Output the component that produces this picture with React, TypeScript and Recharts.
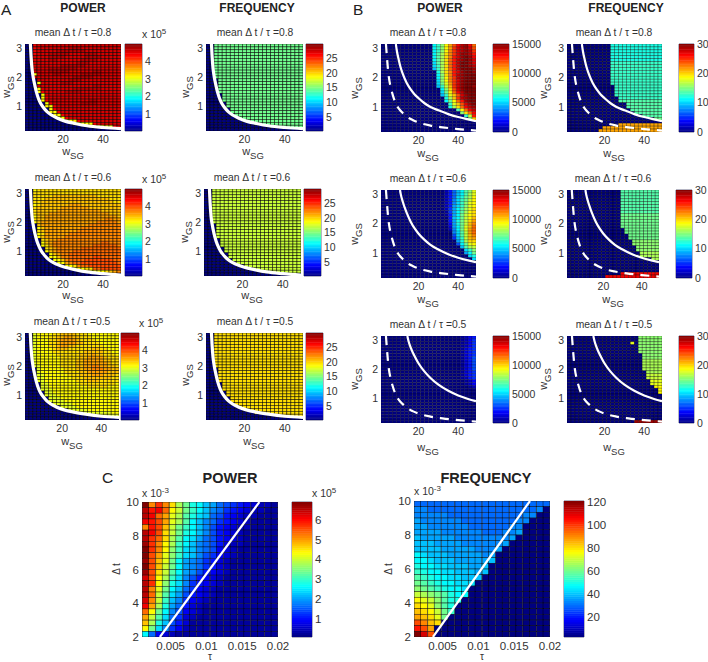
import React from "react";
import { ScatterChart, Scatter, XAxis, YAxis, ReferenceArea } from "recharts";

// Each row is read left to right, top row first. One character = position on the colour bar
// in base 36 (0 = bottom, z = top). A short row repeats its last character to the right edge.
const A_POWER_08 = [
  "00vwwwwwwwwwwwwwwwwwwwww","00vwwwwwwwwxxxwwwwwwwwww","00vwwwwwxxxxxxxwwwwwwwww","00vwwwxxxxxwwwwxxxwwwwww",
  "00wwwwxxxxwwwwwxxxxwwwww","00wwwwxxwwwwwwxxxxwwwwww","00wwwwwwwwwwwxxxwwwwwwww","00wwwwwwwxxxxxxwwwwwwwww",
  "00wwwwxxxxxxxwwwwwwwwwww","00wwwwxxxxxwwwwwwxxwwwww","00mwwwwxxwwwwwxxxxxwwwww","00wwwwwwwwwwxxxxxwwwwwww",
  "000wwwwwwwwxxxwwwwwwwwww","000mwwwwwxxxwwwwwwwwwwww","000wwwwwwwwwwwwwwxxwwwww","000mwwwwwwwwxxxxxxxwwwww",
  "000mvwwwwwxxxxwwwwwwwwww","0000mwwwwwwwwwwwwwwwwwww","0000mvwwwwwwwwwwwwwwwwww","0000mvwwwwwwwwwwxxwwwwww",
  "00000mvwwwwwwwxxxxwwwwww","00000mmvwwwwwwwwwwwwwwww","000000mvwwwwwwwwwwwwwwww","000000mmvwwwwwwwwwwwwwww",
  "0000000mmvwwwwwwwwwwwwww","00000000mmvwwwwwwwwwwwww","0000000000mmnvwwwwwwwwww","000000000000mmmmmvwwwwww",
  "00000000000000000mmmmmvw","0",
];
const A_POWER_06 = [
  "00mnnnnnnnnnnnnnnnnnnnnn","00nnnnnnnnnnnnnnnnnnnnnn","00nnnnnooooooooooonnnnnn","00nnnoooooooooooooooonnn",
  "00nnoooooooooooooooooonn","00mnooooooopppoooooooooo","00noooooopppppppoooooooo","00nooooopppppppppppooooo",
  "00nooopppppppppppppppooo","00mooppppppppppppppppppo","00noopppppppppppppppqqpp","00moppppppppppppppqqqqqp",
  "000oppppppppppppqqqqqqqq","000mopppppppppqqqqqqqqqq","000noppppppppqqqqqqqqqqq","000mnppppppqqqqqqqqqqqqq",
  "000mopppppqqqqqqqqqqqqqq","0000noppqqqqqqqqqqqqqqqq","0000mopqqqqqqqqqqqqrrqqq","0000mnpqqqqqqqqqqrrrrrrq",
  "00000nopqqqqqqrrrrrrrrrr","00000mopqqqqrrrrrrrrrrrr","000000mopqqrrrrrrrrrrrrr","000000mmoqqrrrrrrssrrrrr",
  "0000000mmoqrrrrsssssssrr","00000000mmpqrrsssssssssr","0000000000mmnqrrssssssss","000000000000mmmnnrrsssss",
  "000000000000000mmmmmnopq","0",
];
const A_POWER_05 = [
  "00lmmmmnnoooonnnmmmmmmmm","00lmmmnnooppoonnnmmmmmmm","00lmmmnnopppponnnnmmmmmm","00lmmmnnoppppoonnnnmmmmm",
  "00lmmmnnoppoonnnnnnnmmmm","00lmmmmnooonnnnnnoonnmmm","00lmmmmnnnnnnnnooooonnmm","00lmmmmmnnnnnnooopoonnnm",
  "00lmmmmmmnnnnnoopppponnn","00lmmmmmmnnnnoopppppoonn","00lmmmmmmnnnnoopppppponn","00llmmmmmnnnnooppqqppoon",
  "000lmmmmmmnnnooppqqqppoo","000lmmmmmmnnnnoopppppooo","000llmmmmmmnnnooopppooon","000llmmmmmmmnnnooooooonn",
  "000llmmmmmmmmnnnooonnnnn","0000llmmmmmmmmnnnnnnnnnm","0000llmmmmmmmmmmnnnnnmmm","0000lllmmmmmmmmmmmmmmmmm",
  "00000llmmmmmmmmmmmmmmmmm","00000lllmmmmmmmmmmmmmmmm","000000lllmmmmmmmmmmmmmmm","000000llllmmmmmmmmmmmmmm",
  "0000000lllllmmmmmmmmmmmm","000000000llllmmmmmmmmmmm","00000000000lllllmmmmmmmm","0000000000000lllllllllmm",
  "000000000000000000llllll","0",
];
const A_FREQ_08 = [
  "00h","00h","00h","00h","00h","00h","00h","00h","00h","00h","00h","00h",
  "000h","000h","000h","000h","000h","0000h","0000h","0000h","00000h","00000h","000000h","000000h",
  "0000000h","00000000h","0000000000h","000000000000h","00000000000000000h","0",
];
const A_FREQ_06 = [
  "00k","00k","00k","00k","00k","00k","00k","00k","00k","00k","00k","00k",
  "000k","000k","000k","000k","000k","0000k","0000k","0000k","00000k","00000k","000000k","000000k",
  "0000000k","00000000k","0000000000k","000000000000k","000000000000000k","0",
];
const A_FREQ_05 = [
  "00n","00n","00n","00n","00n","00n","00n","00n","00n","00n","00n","00n",
  "000n","000n","000n","000n","000n","0000n","0000n","0000n","00000n","00000n","000000n","000000n",
  "0000000n","00000000n","0000000000n","000000000000n","000000000000000000n","0",
];
const B_POWER_08 = [
  "0000000000000dfimpsvxyvr","0000000000000dfimptwxyws","0000000000000dfimqtwxyxt","0000000000000dgjnqtwyyxu",
  "0000000000000dgjnquwyzyv","0000000000000dgjnruxyzyw","0000000000000cgjnruxzzyw","0000000000000cfjnruxzzyx",
  "0000000000000bfjnruxzzzy","00000000000000ejnquwyzzy","00000000000000dinquxyzzz","00000000000000dimqtxyzzz",
  "00000000000000cimqtwyzzz","00000000000000chlptwyzzz","00000000000000bfkotwyzzy","000000000000000dinswyzzz",
  "000000000000000chmrvxzzz","000000000000000bfloswyzz","0000000000000000ejotxyzz","0000000000000000dhmruyzz",
  "00000000000000000floswyz","00000000000000000ejnrvxy","0000000000000000000gmrvx","00000000000000000000inrv",
  "000000000000000000000fku","0000000000000000000000ho","0","0","0","0",
];
const B_FREQ_08 = [
  "00000000000e","00000000000e","00000000000e","00000000000e","00000000000e","00000000000e","00000000000f",
  "00000000000f","00000000000f","00000000000f","00000000000f","00000000000f","00000000000f","00000000000f",
  "000000000000f","000000000000f","000000000000f","000000000000f","0000000000000f","0000000000000g",
  "000000000000000g","000000000000000g","0000000000000000g","00000000000000000g","0000000000000000000g",
  "0000000000000000000000h","0","0000000000000p","000000000p","00000000p",
];
const B_POWER_06 = [
  "0000000000000000258bdgil","0000000000000000258bdgjl","0000000000000000258cehjm","0000000000000000259cfhkm",
  "0000000000000000259cfilm","000000000000000025acfilm","000000000000000026adgjln","000000000000000016adgjmn",
  "000000000000000015adhkmn","000000000000000005bdhkmo","000000000000000005aehknp","000000000000000004aehkoq",
  "000000000000000003adhlor","0000000000000000029dhlpr","0000000000000000009cgkpr","0000000000000000007cgkoq",
  "0000000000000000006bfkop","0000000000000000000aejnn","00000000000000000007dhlm","00000000000000000000bgjk",
  "000000000000000000000cfi","000000000000000000000adh","0000000000000000000000ce","00000000000000000000000c",
  "0","0","0","0","0","0",
];
const B_FREQ_06 = [
  "00000000000000g","00000000000000g","00000000000000g","00000000000000g","00000000000000g","00000000000000g",
  "00000000000000g","00000000000000g","00000000000000h","00000000000000h","00000000000000h","00000000000000h",
  "00000000000000h","000000000000000h","000000000000000h","0000000000000000h","0000000000000000h",
  "00000000000000000i","00000000000000000i","000000000000000000i","000000000000000000i","0000000000000000000j",
  "0000000000000000000j","0000000000000000000000j","0","0","0","0","00000000000000v","0000000000v",
];
const B_POWER_05 = [
  "000000000000000000001245","000000000000000000001246","000000000000000000001246","000000000000000000001246",
  "000000000000000000001356","000000000000000000001356","000000000000000000001356","000000000000000000001357",
  "000000000000000000001357","000000000000000000001357","000000000000000000001357","000000000000000000001357",
  "000000000000000000001356","000000000000000000001356","000000000000000000001256","000000000000000000000124",
  "000000000000000000000124","000000000000000000000012","0","0","0","0","0","0","0","0","0","0","0","0",
];
const B_FREQ_05 = [
  "000000000000000000i","000000000000000000i","0000000000000000l0i","000000000000000000i","000000000000000000i",
  "000000000000000000i","0000000000000000000i","0000000000000000000i","0000000000000000000j","0000000000000000000j",
  "0000000000000000000j","0000000000000000000j","00000000000000000000j","00000000000000000000k",
  "00000000000000000000k","000000000000000000000l","000000000000000000000l","0000000000000000000000m",
  "00000000000000000000000m","00000000000000000000000m","0","0","0","0","0","0","0","0","0","00000000000000000y",
];
const C_POWER = [
  "zqtqnjhedba876543221","xuvrmkhfdb9865432211","xvrpljgecb8754322111","vuspljgdb98654321111",
  "qusokhfdb97543221111","xvsnkhedb97543211111","xtrnjgdca87543211111","ytqmjfdb987532211111",
  "ztqmifcb987432111111","zsplifcb976432111111","ysolhda9865321111111","zsokhda9865321111111",
  "ysnkgda9754321111111","wsmjfc97543211111111","xtmiec96543211111111","xqlhdb86432111111111",
  "xrkgca75432111111111","wqkfb964321111111111","vpjea853211111111111","rmhd9743211111111111",
  "pkgc8632111111111111","ojeb7531111111111111","mhc96421111111111111","d8432111111111111111",
];
const C_FREQ = [
  "88888888888888888888","99888888888888888890","9999988888888888990","a99999988888888990","aa999999888888990",
  "aaaa99999988899a0","baaaaa99999999a0","bbbaaaa999999a0","bbbbaaaaa999a0","dcbbbaaaaa9a0","ddcbbbaaaaab0",
  "eddccbbbaab0","feddccbbbab0","gfeddccbbb0","hgfeddccc0","ihgfeddc0","kjihgedd0","mlkigee0","nmlige0",
  "onmkhf0","ponlh0","sqon0","usp0","zws0",
];

const W_SG_CENTERS = [2,4,6,8,10,12,14,16,18,20,22,24,26,28,30,32,34,36,38,40,42,44,46,48];
const W_GS_CENTERS = [3.1,3,2.9,2.8,2.7,2.6,2.5,2.4,2.3,2.2,2.1,2,1.9,1.8,1.7,1.6,1.5,1.4,1.3,1.2,1.1,1,0.9,0.8,0.7,0.6,0.5,0.4,0.3,0.2];
const TAU_CENTERS = [0.0015,0.0024,0.0034,0.0043,0.0053,0.0062,0.0072,0.0081,0.0091,0.01,0.011,0.0119,0.0129,0.0138,0.0148,0.0157,0.0167,0.0176,0.0186,0.0195];
const DT_CENTERS = [9.83,9.5,9.17,8.83,8.5,8.17,7.83,7.5,7.17,6.83,6.5,6.17,5.83,5.5,5.17,4.83,4.5,4.17,3.83,3.5,3.17,2.83,2.5,2.17];

const BAR_LEVELS = [0,1,2,3,4,5,6,7,8,9,10,11,12,13,14,15,16,17,18,19,20,21,22,23,24,25,26,27,28,29,30,31,32,33,34,35,36,37,38,39,40,41,42,43,44,45,46,47,48,49,50,51,52,53,54,55,56,57,58,59,60,61,62,63];

type P = { x: number; y: number };
const pts = (xs: number[], ys: number[]): P[] => xs.map((x, i) => ({ x, y: ys[i] }));

const LOW_X = [3.7,4,4.5,5,6,7,8,9,10,12,14,17,21,26,32,40,49];
const LOW_Y_08 = [3.15,2.75,2.3,2.05,1.7,1.42,1.22,1.08,0.98,0.82,0.71,0.6,0.49,0.41,0.33,0.27,0.23];
const LOW_Y_06 = [3.15,2.7,2.2,1.95,1.6,1.35,1.17,1.03,0.93,0.77,0.66,0.55,0.45,0.37,0.29,0.23,0.18];
const LOW_Y_05 = [3.15,2.75,2.3,2.05,1.7,1.42,1.22,1.08,0.98,0.82,0.71,0.6,0.5,0.42,0.35,0.28,0.24];
const DASH_X = [3.5,4,4.5,5,6,7,8,9,10,12,14,17,21,26,32,40,49];
const DASH_Y = [3.15,2.7,2.3,2.0,1.65,1.4,1.2,1.05,0.95,0.8,0.68,0.56,0.45,0.37,0.31,0.25,0.2];
const MID_X_08 = [8.5,9,10,11,12,14,16,18,20,23,26,30,35,40,45,49];
const MID_Y_08 = [3.15,2.92,2.6,2.33,2.13,1.82,1.6,1.43,1.3,1.13,1,0.89,0.76,0.66,0.58,0.52];
const MID_X_06 = [10.6,11,12,13,14,16,18,20,23,26,30,35,40,45,49];
const MID_Y_06 = [3.15,3,2.75,2.55,2.37,2.07,1.84,1.66,1.45,1.28,1.12,0.96,0.84,0.75,0.69];
const MID_X_05 = [14.3,15,16,18,20,23,26,30,35,40,45,49];
const MID_Y_05 = [3.15,2.95,2.75,2.45,2.2,1.92,1.7,1.47,1.26,1.1,0.98,0.9];
const C_LINE_X_POWER = [0.0035,0.0174];
const C_LINE_X_FREQ = [0.00365,0.0172];
const C_LINE_Y = [2,10];

const clamp = (v: number) => Math.max(0, Math.min(1, v));
const jet = (f: number) => {
  const r = clamp(1.5 - Math.abs(4 * f - 3));
  const g = clamp(1.5 - Math.abs(4 * f - 2));
  const b = clamp(1.5 - Math.abs(4 * f - 1));
  return `rgb(${Math.round(r * 255)},${Math.round(g * 255)},${Math.round(b * 255)})`;
};

const FONT = "'Liberation Sans', Arial, sans-serif";
const INK = "#333";
const FRAME = "#2b2b55";
const MT = 10, ML = 44, MR = 18, MB = 24;

type LineDef = { xs: number[]; ys: number[]; w: number; dash?: string };
type HeatProps = {
  px: number; py: number; pw: number; ph: number; rows: string[];
  xs: number[]; ys: number[]; xDomain: number[]; yDomain: number[]; xTicks: number[]; yTicks: number[];
  lines: LineDef[]; grid: number; fs?: number;
};

function Heat({ px, py, pw, ph, rows, xs, ys, xDomain, yDomain, xTicks, yTicks, lines, grid, fs = 10.5 }: HeatProps) {
  const data: any[] = [];
  ys.forEach((y, r) => {
    const row = rows[r] ?? "0";
    xs.forEach((x, c) => {
      const ch = c < row.length ? row[c] : row[row.length - 1];
      data.push({ x, y, v: parseInt(ch, 36) / 35 });
    });
  });
  const cw = pw / xs.length;
  const chh = ph / ys.length;
  const cell = (p: any) => (
    <rect x={p.cx - cw / 2} y={p.cy - chh / 2} width={cw} height={chh} fill={jet(p.payload.v)}
      stroke="#000" strokeWidth={0.6} strokeOpacity={grid} />
  );
  const tick = { fontSize: fs, fill: INK, fontFamily: FONT };
  return (
    <div style={{ position: "absolute", left: px - ML, top: py - MT }}>
      <ScatterChart width={pw + ML + MR} height={ph + MT + MB} margin={{ top: MT, right: MR, bottom: 0, left: 0 }}>
        <XAxis type="number" dataKey="x" domain={xDomain} ticks={xTicks} interval={0} allowDataOverflow
          height={MB} tickLine={false} axisLine={false} tickSize={0} tickMargin={5} tick={tick} />
        <YAxis type="number" dataKey="y" domain={yDomain} ticks={yTicks} interval={0} allowDataOverflow
          width={ML} tickLine={false} axisLine={false} tickSize={0} tickMargin={3} tick={tick} />
        <Scatter data={data} shape={cell} isAnimationActive={false} />
        {lines.map((l, i) => (
          <Scatter key={i} data={pts(l.xs, l.ys)} isAnimationActive={false} shape={() => <g />}
            line={{ stroke: "#fff", strokeWidth: l.w, strokeDasharray: l.dash, fill: "none" }}
            lineJointType="monotoneX" />
        ))}
        <ReferenceArea x1={xDomain[0]} x2={xDomain[1]} y1={yDomain[0]} y2={yDomain[1]} fill="none"
          stroke={FRAME} strokeWidth={0.7} ifOverflow="hidden" />
      </ScatterChart>
    </div>
  );
}

type BarProps = { px: number; py: number; pw: number; ph: number; domain: number[]; ticks: number[]; fs?: number };
function ColorBar({ px, py, pw, ph, domain, ticks, fs = 10.5 }: BarProps) {
  const data = BAR_LEVELS.map((l) => ({
    x: 0.5,
    y: domain[0] + ((domain[1] - domain[0]) * (l + 0.5)) / BAR_LEVELS.length,
    f: (l + 0.5) / BAR_LEVELS.length,
  }));
  const h = ph / BAR_LEVELS.length;
  const cell = (p: any) => (
    <rect x={p.cx - pw / 2} y={p.cy - h / 2 - 0.2} width={pw} height={h + 0.4} fill={jet(p.payload.f)} />
  );
  return (
    <div style={{ position: "absolute", left: px - 2, top: py - MT }}>
      <ScatterChart width={pw + 2 + 44} height={ph + MT + 10} margin={{ top: MT, right: 0, bottom: 10, left: 2 }}>
        <XAxis type="number" dataKey="x" domain={[0, 1]} hide height={0} />
        <YAxis type="number" dataKey="y" orientation="right" domain={domain} ticks={ticks} interval={0} allowDataOverflow
          width={44} tickLine={false} axisLine={false} tickSize={0} tickMargin={3}
          tick={{ fontSize: fs, fill: INK, fontFamily: FONT, textAnchor: "start" }} />
        <Scatter data={data} shape={cell} isAnimationActive={false} />
        <ReferenceArea x1={0} x2={1} y1={domain[0]} y2={domain[1]} fill="none" stroke={FRAME} strokeWidth={0.7} />
      </ScatterChart>
    </div>
  );
}

const W_DOMAIN = [1, 49];
const GS_DOMAIN = [0.15, 3.15];
const W_TICKS = [20, 40];
const GS_TICKS = [1, 2, 3];
const POWER_BAR = [0.03, 4.98];
const POWER_TICKS = [1, 2, 3, 4];
const FREQ_BAR = [0.2, 29.8];
const FREQ_TICKS = [5, 10, 15, 20, 25];
const B_POWER_BAR = [0, 15000];
const B_POWER_TICKS = [0, 5000, 10000, 15000];
const B_FREQ_BAR = [0, 30];
const B_FREQ_TICKS = [0, 10, 20, 30];
const grid = { xs: W_SG_CENTERS, ys: W_GS_CENTERS, xDomain: W_DOMAIN, yDomain: GS_DOMAIN, xTicks: W_TICKS, yTicks: GS_TICKS };

const Title = ({ x, y, t, fs = 12 }: { x: number; y: number; t: string; fs?: number }) => (
  <text x={x} y={y} textAnchor="middle" fontSize={fs} fontWeight={700} fill="#222">{t}</text>
);
const Sub = ({ x, y, r }: { x: number; y: number; r: string }) => (
  <text x={x} y={y} textAnchor="middle" fontSize={10.3} fill={INK}>{`mean \u0394 t / \u03c4 =${r}`}</text>
);
const WSG = ({ x, y }: { x: number; y: number }) => (
  <text x={x} y={y} textAnchor="middle" fontSize={11} fill={INK}>w<tspan fontSize={9.5} dy={4}>SG</tspan></text>
);
const WGS = ({ x, y }: { x: number; y: number }) => (
  <text transform={`translate(${x},${y}) rotate(-90)`} textAnchor="middle" fontSize={11} fill={INK}>w<tspan fontSize={9.5} dy={4}>GS</tspan></text>
);
const Exp = ({ x, y, e }: { x: number; y: number; e: string }) => (
  <text x={x} y={y} fontSize={10.5} fill={INK}>x 10<tspan fontSize={8} dy={-4}>{e}</tspan></text>
);
const Big = ({ x, y, t }: { x: number; y: number; t: string }) => (
  <text x={x} y={y} fontSize={15.5} fill="#222">{t}</text>
);

export default function App() {
  return (
    <div style={{ position: "absolute", left: 0, top: 0, width: 708, height: 662, background: "#fff", overflow: "hidden" }}>
      <Heat px={25} py={44} pw={96} ph={87} rows={A_POWER_08} {...grid} grid={0.8} lines={[{ xs: LOW_X, ys: LOW_Y_08, w: 3.2 }]} />
      <ColorBar px={125} py={44} pw={17} ph={87} domain={POWER_BAR} ticks={POWER_TICKS} />
      <Heat px={206} py={44} pw={97} ph={87} rows={A_FREQ_08} {...grid} grid={0.8} lines={[{ xs: LOW_X, ys: LOW_Y_08, w: 3.2 }]} />
      <ColorBar px={306} py={44} pw={17} ph={87} domain={FREQ_BAR} ticks={FREQ_TICKS} />

      <Heat px={25} py={189} pw={96} ph={87} rows={A_POWER_06} {...grid} grid={0.8} lines={[{ xs: LOW_X, ys: LOW_Y_06, w: 3.2 }]} />
      <ColorBar px={125} py={189} pw={17} ph={87} domain={POWER_BAR} ticks={POWER_TICKS} />
      <Heat px={204} py={189} pw={97} ph={87} rows={A_FREQ_06} {...grid} grid={0.8} lines={[{ xs: LOW_X, ys: LOW_Y_06, w: 3.2 }]} />
      <ColorBar px={304} py={189} pw={17} ph={87} domain={FREQ_BAR} ticks={FREQ_TICKS} />

      <Heat px={25} py={333} pw={94} ph={87} rows={A_POWER_05} {...grid} grid={0.8} lines={[{ xs: LOW_X, ys: LOW_Y_05, w: 3.2 }]} />
      <ColorBar px={121} py={333} pw={18} ph={87} domain={POWER_BAR} ticks={POWER_TICKS} />
      <Heat px={206} py={333} pw={97} ph={87} rows={A_FREQ_05} {...grid} grid={0.8} lines={[{ xs: LOW_X, ys: LOW_Y_05, w: 3.2 }]} />
      <ColorBar px={306} py={333} pw={17} ph={87} domain={FREQ_BAR} ticks={FREQ_TICKS} />

      <Heat px={381} py={44} pw={95} ph={88} rows={B_POWER_08} {...grid} grid={0.35} lines={[{ xs: DASH_X, ys: DASH_Y, w: 2.2, dash: "9 7" }, { xs: MID_X_08, ys: MID_Y_08, w: 2.2 }]} />
      <ColorBar px={493} py={44} pw={16} ph={88} domain={B_POWER_BAR} ticks={B_POWER_TICKS} />
      <Heat px={567} py={44} pw={95} ph={88} rows={B_FREQ_08} {...grid} grid={0.5} lines={[{ xs: DASH_X, ys: DASH_Y, w: 2.2, dash: "9 7" }, { xs: MID_X_08, ys: MID_Y_08, w: 2.2 }]} />
      <ColorBar px={679} py={44} pw={15} ph={88} domain={B_FREQ_BAR} ticks={B_FREQ_TICKS} />

      <Heat px={381} py={190} pw={95} ph={88} rows={B_POWER_06} {...grid} grid={0.35} lines={[{ xs: DASH_X, ys: DASH_Y, w: 2.2, dash: "9 7" }, { xs: MID_X_06, ys: MID_Y_06, w: 2.2 }]} />
      <ColorBar px={493} py={190} pw={16} ph={88} domain={B_POWER_BAR} ticks={B_POWER_TICKS} />
      <Heat px={567} py={190} pw={92} ph={88} rows={B_FREQ_06} {...grid} grid={0.5} lines={[{ xs: DASH_X, ys: DASH_Y, w: 2.2, dash: "9 7" }, { xs: MID_X_06, ys: MID_Y_06, w: 2.2 }]} />
      <ColorBar px={676} py={190} pw={16} ph={88} domain={B_FREQ_BAR} ticks={B_FREQ_TICKS} />

      <Heat px={381} py={336} pw={95} ph={87} rows={B_POWER_05} {...grid} grid={0.35} lines={[{ xs: DASH_X, ys: DASH_Y, w: 2.2, dash: "9 7" }, { xs: MID_X_05, ys: MID_Y_05, w: 2.2 }]} />
      <ColorBar px={493} py={336} pw={16} ph={87} domain={B_POWER_BAR} ticks={B_POWER_TICKS} />
      <Heat px={567} py={336} pw={95} ph={87} rows={B_FREQ_05} {...grid} grid={0.5} lines={[{ xs: DASH_X, ys: DASH_Y, w: 2.2, dash: "9 7" }, { xs: MID_X_05, ys: MID_Y_05, w: 2.2 }]} />
      <ColorBar px={679} py={336} pw={15} ph={87} domain={B_FREQ_BAR} ticks={B_FREQ_TICKS} />

      <Heat px={142} py={502} pw={136} ph={135} rows={C_POWER} xs={TAU_CENTERS} ys={DT_CENTERS} xDomain={[0.001, 0.02]} yDomain={[2, 10]}
        xTicks={[0.005, 0.01, 0.015, 0.02]} yTicks={[2, 4, 6, 8, 10]} grid={0.7} fs={11.5}
        lines={[{ xs: C_LINE_X_POWER, ys: C_LINE_Y, w: 2.2 }]} />
      <ColorBar px={292} py={502} pw={20} ph={135} domain={[0.08, 6.9]} ticks={[1, 2, 3, 4, 5, 6]} fs={11.5} />
      <Heat px={414} py={501} pw={136} ph={136} rows={C_FREQ} xs={TAU_CENTERS} ys={DT_CENTERS} xDomain={[0.001, 0.02]} yDomain={[2, 10]}
        xTicks={[0.005, 0.01, 0.015, 0.02]} yTicks={[2, 4, 6, 8, 10]} grid={0.7} fs={11.5}
        lines={[{ xs: C_LINE_X_FREQ, ys: C_LINE_Y, w: 2.2 }]} />
      <ColorBar px={564} py={501} pw={20} ph={136} domain={[2, 121]} ticks={[20, 40, 60, 80, 100, 120]} fs={11.5} />

      <svg width={708} height={662} style={{ position: "absolute", left: 0, top: 0, pointerEvents: "none" }} fontFamily={FONT}>
        <Big x={1} y={14.5} t="A" />
        <Big x={353} y={14.5} t="B" />
        <Big x={102} y={483} t="C" />
        <Title x={83} y={11.5} t="POWER" />
        <Title x={257} y={11.5} t="FREQUENCY" />
        <Title x={440} y={11.5} t="POWER" />
        <Title x={626} y={11.5} t="FREQUENCY" />
        <Sub x={73} y={36} r="0.8" /><Sub x={255} y={36} r="0.8" /><Sub x={428} y={36} r="0.8" /><Sub x={614} y={36} r="0.8" />
        <Sub x={73} y={181} r="0.6" /><Sub x={252} y={181} r="0.6" /><Sub x={428} y={182} r="0.6" /><Sub x={613} y={182} r="0.6" />
        <Sub x={72} y={325} r="0.5" /><Sub x={255} y={325} r="0.5" /><Sub x={428} y={328} r="0.5" /><Sub x={614} y={328} r="0.5" />
        <WSG x={73} y={155} /><WSG x={253} y={155} /><WSG x={428} y={157} /><WSG x={614} y={157} />
        <WSG x={73} y={299} /><WSG x={252} y={299} /><WSG x={428} y={303} /><WSG x={613} y={303} />
        <WSG x={72} y={445} /><WSG x={254} y={445} /><WSG x={428} y={451} /><WSG x={614} y={451} />
        <WGS x={10} y={87} /><WGS x={189} y={87} /><WGS x={358} y={88} /><WGS x={547} y={88} />
        <WGS x={10} y={232} /><WGS x={188} y={232} /><WGS x={358} y={234} /><WGS x={547} y={234} />
        <WGS x={10} y={375} /><WGS x={189} y={375} /><WGS x={358} y={379} /><WGS x={547} y={379} />
        <Exp x={142} y={38} e="5" /><Exp x={142} y={183} e="5" /><Exp x={139} y={327} e="5" />
        <Exp x={142} y={497} e="-3" /><Exp x={312} y={497} e="5" /><Exp x={414} y={495} e="-3" />
        <Title x={230} y={483} t="POWER" fs={14.5} />
        <Title x={486} y={483} t="FREQUENCY" fs={14.5} />
        <text transform="translate(120,569) rotate(-90)" textAnchor="middle" fontSize={10} fill={INK}>{"\u0394 t"}</text>
        <text transform="translate(392,569) rotate(-90)" textAnchor="middle" fontSize={10} fill={INK}>{"\u0394 t"}</text>
        <text x={210} y={660} textAnchor="middle" fontSize={10} fill={INK}>{"\u03c4"}</text>
        <text x={482} y={660} textAnchor="middle" fontSize={10} fill={INK}>{"\u03c4"}</text>
      </svg>
    </div>
  );
}
